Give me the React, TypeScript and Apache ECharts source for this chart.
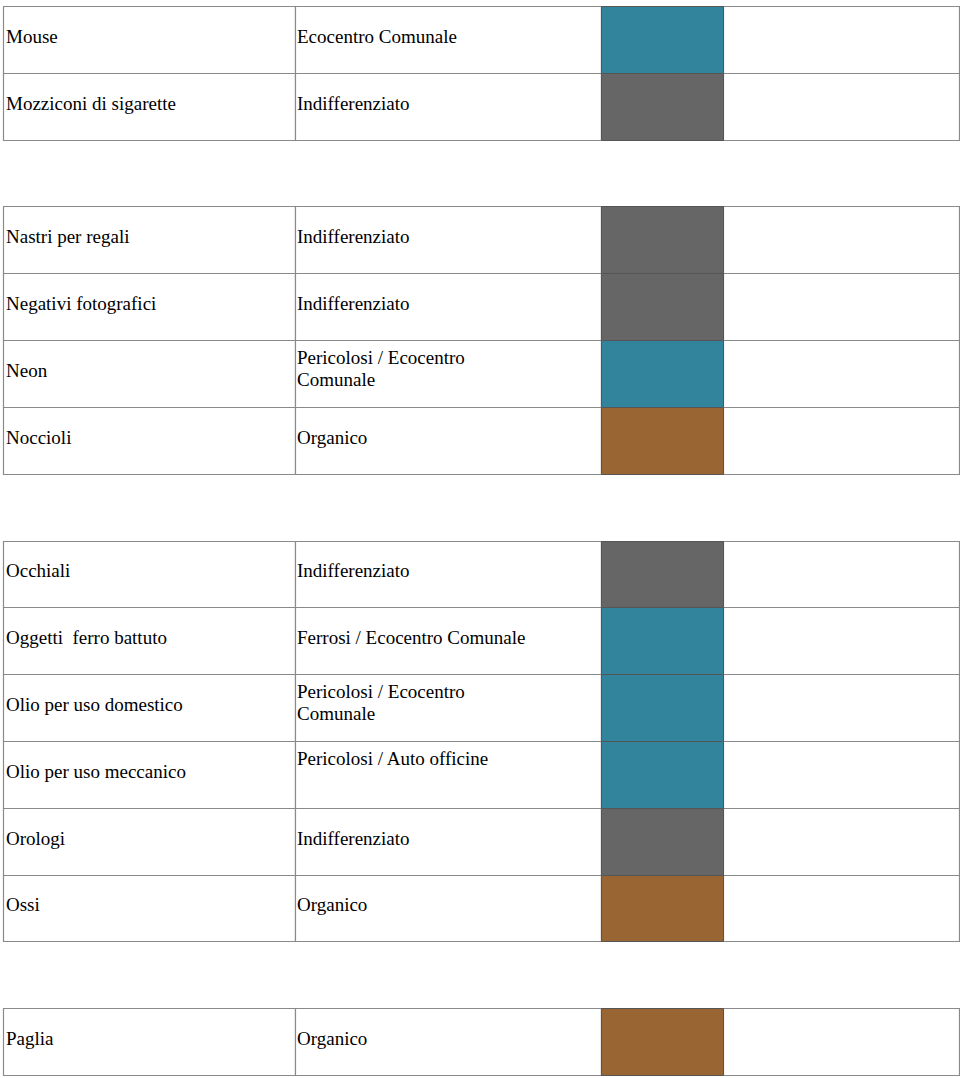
import React, { useEffect, useRef } from "react";
import * as echarts from "echarts";

// ---- data ----
const rowNames: string[] = [
  "Mouse",
  "Mozziconi di sigarette",
  "",
  "Nastri per regali",
  "Negativi fotografici",
  "Neon",
  "Noccioli",
  "",
  "Occhiali",
  "Oggetti  ferro battuto",
  "Olio per uso domestico",
  "Olio per uso meccanico",
  "Orologi",
  "Ossi",
  "",
  "Paglia",
];

const rowBins: string[] = [
  "Ecocentro Comunale",
  "Indifferenziato",
  "",
  "Indifferenziato",
  "Indifferenziato",
  "Pericolosi / Ecocentro\nComunale",
  "Organico",
  "",
  "Indifferenziato",
  "Ferrosi / Ecocentro Comunale",
  "Pericolosi / Ecocentro\nComunale",
  "Pericolosi / Auto officine\n",
  "Indifferenziato",
  "Organico",
  "",
  "Organico",
];

const rowColorKeys: string[] = [
  "teal", "gray", "", "gray", "gray", "teal", "brown", "",
  "gray", "teal", "teal", "teal", "gray", "brown", "", "brown",
];

const binColors: Record<string, string> = {
  teal: "#31849b",
  gray: "#666666",
  brown: "#996633",
};

// ---- layout (not data) ----
const TABLE_WIDTH = 956;
const COL_EDGES = [0, 292, 598, 720, 956];
const FONT = "Liberation Serif";
const FONT_SIZE = 19;
const LINE = "#8a8a8a";

export default function App() {
  const ref = useRef<HTMLDivElement>(null);

  useEffect(() => {
    if (!ref.current) return;
    const chart = echarts.init(ref.current, undefined, { renderer: "svg" });

    const seriesData = rowNames
      .map((_, i) => i)
      .filter((i) => rowNames[i] !== "")
      .map((i) => [i]);

    const option: any = {
      animation: false,
      backgroundColor: "#ffffff",
      grid: { left: 3, top: 6, width: TABLE_WIDTH, height: 1069 },
      xAxis: { type: "value", min: 0, max: TABLE_WIDTH, show: false },
      yAxis: {
        type: "value",
        min: -0.5,
        max: rowNames.length - 0.5,
        inverse: true,
        show: false,
      },
      series: [
        {
          type: "custom",
          coordinateSystem: "cartesian2d",
          data: seriesData,
          renderItem: (params: any, api: any) => {
            const idx = api.value(0);
            const center = api.coord([0, idx])[1];
            const h = api.size([0, 1])[1];
            const top = Math.round(center - h / 2) + 0.5;
            const bottom = Math.round(center + h / 2) + 0.5;
            const xs = COL_EDGES.map((e) => Math.round(api.coord([e, idx])[0]) + 0.5);
            const children: any[] = [];
            for (let c = 0; c < 4; c++) {
              children.push({
                type: "rect",
                shape: { x: xs[c], y: top, width: xs[c + 1] - xs[c], height: bottom - top },
                style: { fill: "#ffffff", stroke: LINE, lineWidth: 1.2 },
              });
            }
            children.push({
              type: "rect",
              shape: { x: xs[2], y: top, width: xs[3] - xs[2], height: bottom - top },
              style: {
                fill: binColors[rowColorKeys[idx]],
                stroke: "#555555",
                lineWidth: 1,
              },
            });
            const ty = center - 3;
            children.push({
              type: "text",
              style: {
                text: rowNames[idx],
                x: xs[0] + 2.5,
                y: ty,
                fill: "#000000",
                fontFamily: FONT,
                fontSize: FONT_SIZE,
                lineHeight: 22,
                align: "left",
                verticalAlign: "middle",
              },
            });
            children.push({
              type: "text",
              style: {
                text: rowBins[idx],
                x: xs[1] + 1.5,
                y: rowBins[idx].indexOf("\n") >= 0 ? ty - 2 : ty,
                fill: "#000000",
                fontFamily: FONT,
                fontSize: FONT_SIZE,
                lineHeight: 22,
                align: "left",
                verticalAlign: "middle",
              },
            });
            return { type: "group", children };
          },
        },
      ],
    };

    chart.setOption(option);
    return () => chart.dispose();
  }, []);

  return (
    <div
      ref={ref}
      style={{ position: "fixed", left: 0, top: 0, width: 960, height: 1078, background: "#fff" }}
    />
  );
}
